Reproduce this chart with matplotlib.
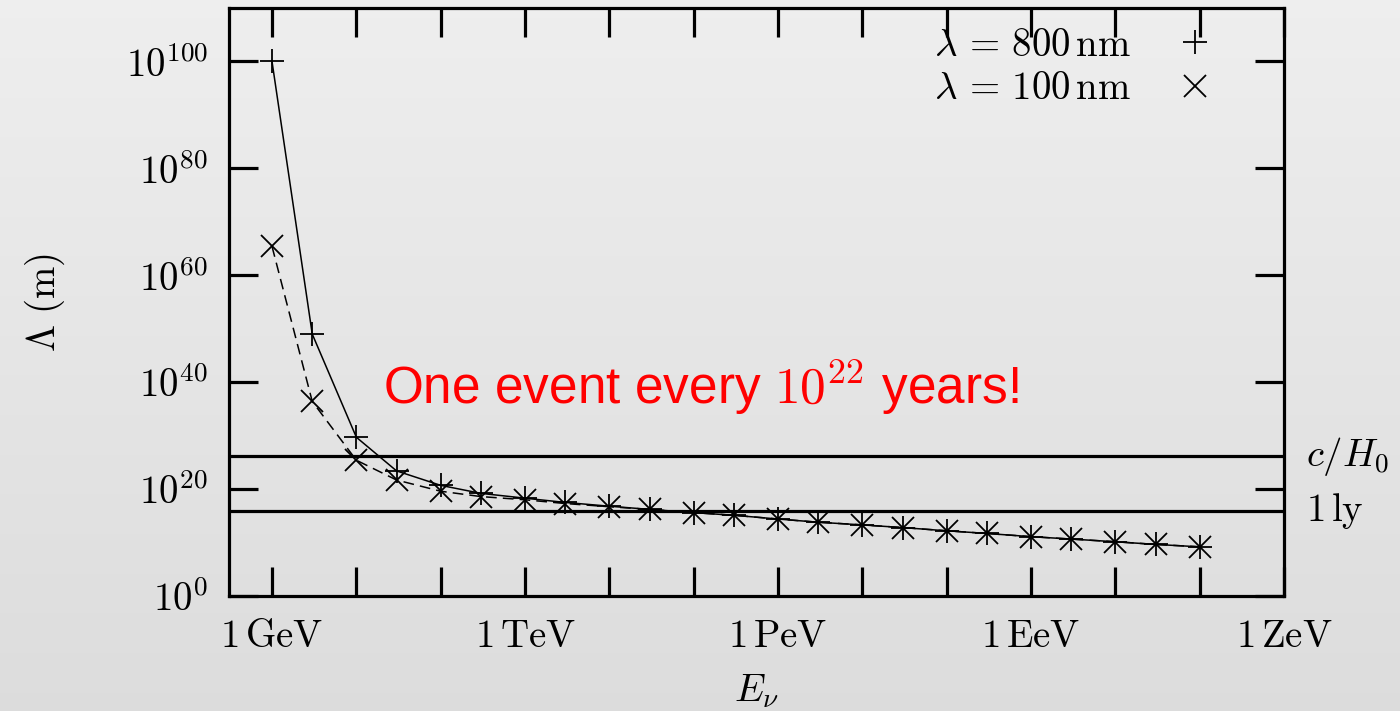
import numpy as np
import matplotlib
matplotlib.use('Agg')
import matplotlib.pyplot as plt
from matplotlib.lines import Line2D
import matplotlib.transforms as mtransforms

plt.rcParams['mathtext.fontset'] = 'cm'
plt.rcParams['font.family'] = 'serif'
plt.rcParams['font.serif'] = ['cmr10', 'DejaVu Serif']
plt.rcParams['axes.formatter.use_mathtext'] = True

# neutrino energy in GeV: 1, 3, 10, 30, ... 1e11
energy_gev = [1, 3, 1e1, 3e1, 1e2, 3e2, 1e3, 3e3, 1e4, 3e4, 1e5, 3e5,
              1e6, 3e6, 1e7, 3e7, 1e8, 3e8, 1e9, 3e9, 1e10, 3e10, 1e11]

# log10 of the mean free path (m)
log_lambda_800 = [100.0, 49.0, 29.7, 23.4, 20.7, 19.2, 18.3, 17.5, 16.8, 16.2,
                  15.6, 15.1, 14.4, 13.8, 13.3, 12.8, 12.2, 11.7, 11.1, 10.65,
                  10.15, 9.65, 9.2]
log_lambda_100 = [65.4, 36.4, 25.4, 21.7, 19.6, 18.6, 18.0, 17.3, 16.7, 16.2,
                  15.6, 15.1, 14.4, 13.8, 13.3, 12.8, 12.2, 11.7, 11.1, 10.65,
                  10.15, 9.65, 9.2]

# reference lengths (m)
hubble_length = 1.3e26
light_year = 9.46e15

x_tick_labels = [r'$1\,\mathrm{GeV}$', r'$1\,\mathrm{TeV}$', r'$1\,\mathrm{PeV}$',
                 r'$1\,\mathrm{EeV}$', r'$1\,\mathrm{ZeV}$']
y_tick_exp = [0, 20, 40, 60, 80, 100]

fs = 28

fig = plt.figure(figsize=(14, 7.11), dpi=100)

# grey gradient background
bg = fig.add_axes([0, 0, 1, 1], zorder=-10)
grad = np.linspace(0.935, 0.865, 256).reshape(-1, 1)
bg.imshow(np.dstack([grad, grad, grad]), aspect='auto', extent=[0, 1, 0, 1],
          interpolation='bicubic')
bg.axis('off')

ax = fig.add_axes([229/1400, 1 - 596/711, (1284 - 229)/1400, (596 - 8)/711])
ax.set_facecolor('none')

y800 = [10.0**v for v in log_lambda_800]
y100 = [10.0**v for v in log_lambda_100]

ax.plot(energy_gev, y800, color='black', lw=1.1, ls='-',
        marker='+', ms=17, mew=1.3, zorder=3)
ax.plot(energy_gev, y100, color='black', lw=1.1, ls=(0, (7, 4)),
        marker='x', ms=16, mew=1.3, zorder=3)

ax.axhline(hubble_length, color='black', lw=2.3, zorder=2)
ax.axhline(light_year, color='black', lw=2.3, zorder=2)

ax.set_xscale('log')
ax.set_yscale('log')
ax.set_xlim(10**-0.51, 1e12)
ax.set_ylim(1, 1e110)

# a tick on every decade, labels every third one
ax.set_xticks([10.0**k for k in range(0, 13)])
ax.set_xticklabels([x_tick_labels[k // 3] if k % 3 == 0 else '' for k in range(0, 13)])
ax.set_xticks([], minor=True)
ax.set_yticks([10.0**e for e in y_tick_exp])
ax.set_yticklabels([r'$10^{%d}$' % e for e in y_tick_exp])
ax.set_yticks([], minor=True)

ax.tick_params(which='major', direction='in', length=21, width=2.3,
               top=True, right=True, labelsize=fs)
ax.tick_params(axis='x', pad=17)
ax.tick_params(axis='y', pad=15)
for s in ax.spines.values():
    s.set_linewidth(2.3)

trans = mtransforms.blended_transform_factory(ax.transAxes, ax.transData)
ax.text(1.021, hubble_length, r'$c/H_0$', transform=trans, fontsize=fs,
        va='center', ha='left')
ax.text(1.021, light_year, r'$1\,\mathrm{ly}$', transform=trans, fontsize=fs,
        va='center', ha='left')

ax.set_ylabel(r'$\Lambda\ (\mathrm{m})$', fontsize=fs, labelpad=42)
ax.set_xlabel(r'$E_\nu$', fontsize=fs, labelpad=12)

ax.text(0.146, 1e39, r'One event every $10^{22}$ years!', transform=trans,
        fontsize=37, color='red', family='Liberation Sans', va='center', ha='left')

handles = [Line2D([], [], ls='none', marker='+', ms=17, mew=1.3, color='black'),
           Line2D([], [], ls='none', marker='x', ms=16, mew=1.3, color='black')]
ax.legend(handles, [r'$\lambda\,=\,800\,\mathrm{nm}$', r'$\lambda\,=\,100\,\mathrm{nm}$'],
          loc='upper right', bbox_to_anchor=(1224/1400, 1 - 28/711),
          bbox_transform=fig.transFigure, frameon=False, fontsize=fs,
          markerfirst=False, handlelength=1.5, handletextpad=0.9,
          labelspacing=0.2, borderpad=0, borderaxespad=0)

fig.savefig('out.png', dpi=100)
